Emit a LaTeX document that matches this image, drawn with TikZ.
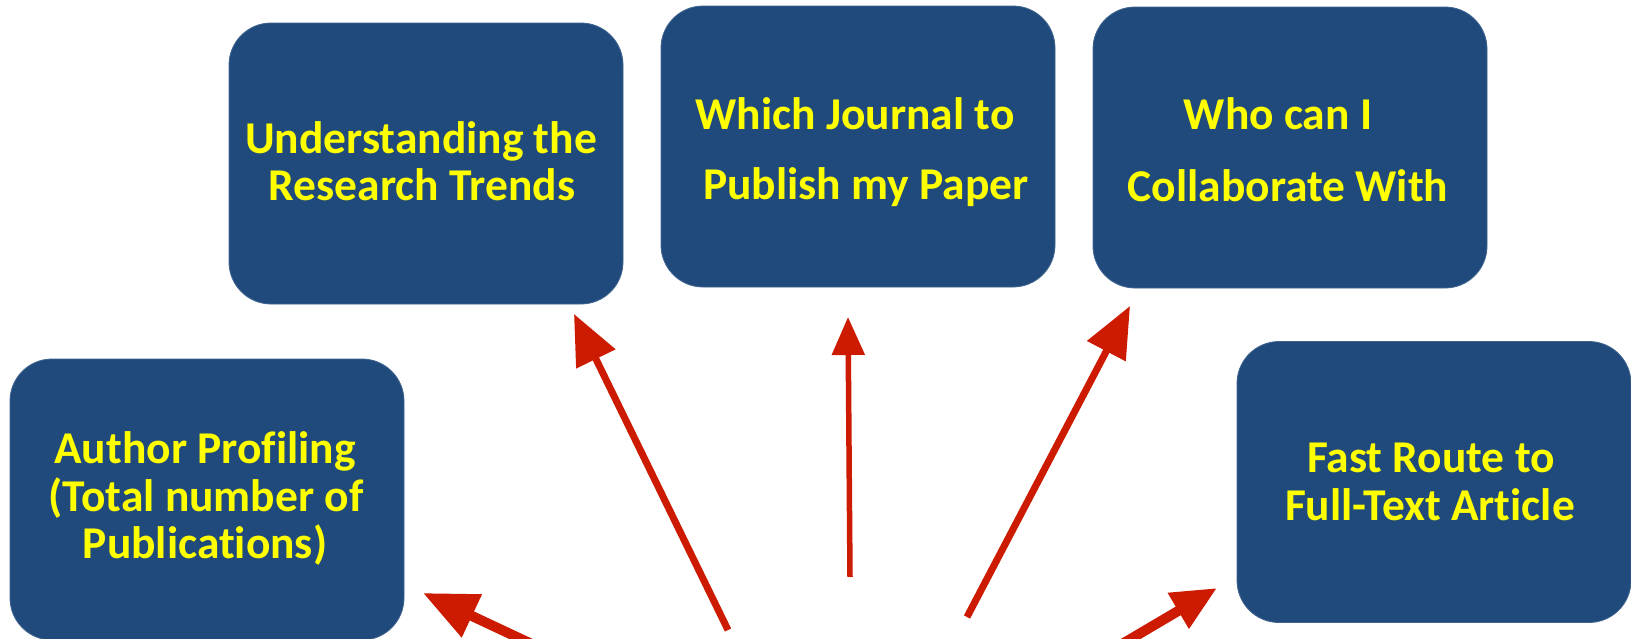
\documentclass[tikz,border=0pt]{standalone}
\usepackage{fontspec}
\setmainfont{Carlito}[Ligatures=NoCommon]
\usetikzlibrary{arrows.meta}
\definecolor{boxblue}{RGB}{32,74,124}
\definecolor{txtyellow}{RGB}{255,255,0}
\definecolor{arrowred}{RGB}{204,27,0}
\tikzset{
  infobox/.style={fill=boxblue, draw=boxblue!85!white, line width=0.8pt, rounded corners=42pt,
    minimum width=394pt, minimum height=281pt, inner sep=0pt, outer sep=0pt},
  boxtext/.style={text=txtyellow, font=\fontsize{45.5}{50}\selectfont\bfseries, inner sep=0pt, anchor=base},
}
\begin{document}
\begin{tikzpicture}[x=1pt,y=-1pt]
\clip (0,0) rectangle (1631,638);
\fill[white] (0,0) rectangle (1631,638);
% boxes
\node[infobox] (b1) at (426,163.5) {};
\node[infobox] (b2) at (858,146.5) {};
\node[infobox] (b3) at (1290,147.5) {};
\node[infobox] (b4) at (207,499.5) {};
\node[infobox] (b5) at (1434,482) {};
% texts
\node[boxtext] (t1a) at (421,153) {Understanding the};
\node[boxtext] (t1b) at (422,200) {Research Trends};
\node[boxtext] (t2a) at (855,129) {Which Journal to};
\node[boxtext] (t2b) at (866,199) {Publish my Paper};
\node[boxtext] (t3a) at (1278,129) {Who can I};
\node[boxtext] (t3b) at (1288,201) {Collaborate With};
\node[boxtext] (t4a) at (205,463) {Author Profiling};
\node[boxtext] (t4b) at (206,511) {(Total number of};
\node[boxtext] (t4c) at (205,558) {Publications)};
\node[boxtext] (t5a) at (1431,472) {Fast Route to};
\node[boxtext] (t5b) at (1430,520) {Full-Text Article};
% arrow ends
\coordinate (sA) at (728,630);  \coordinate (eA) at (574,314);
\coordinate (sB) at (850,577);  \coordinate (eB) at (848,317);
\coordinate (sC) at (967,617);  \coordinate (eC) at (1130,306);
\coordinate (sD) at (570,662);  \coordinate (eD) at (423,593);
\coordinate (sE) at (1095,660); \coordinate (eE) at (1217,588);
% arrows
\draw[draw=arrowred, line width=7pt, -{Triangle[length=50pt,width=42pt]}] (sA) -- (eA);
\draw[draw=arrowred, line width=5.5pt, -{Triangle[length=38pt,width=32pt]}] (sB) -- (eB);
\draw[draw=arrowred, line width=7pt, -{Triangle[length=51pt,width=42pt]}] (sC) -- (eC);
\draw[draw=arrowred, line width=10pt, -{Triangle[length=54pt,width=45pt]}] (sD) -- (eD);
\draw[draw=arrowred, line width=10pt, -{Triangle[length=45pt,width=39pt]}] (sE) -- (eE);
\end{tikzpicture}
\end{document}
